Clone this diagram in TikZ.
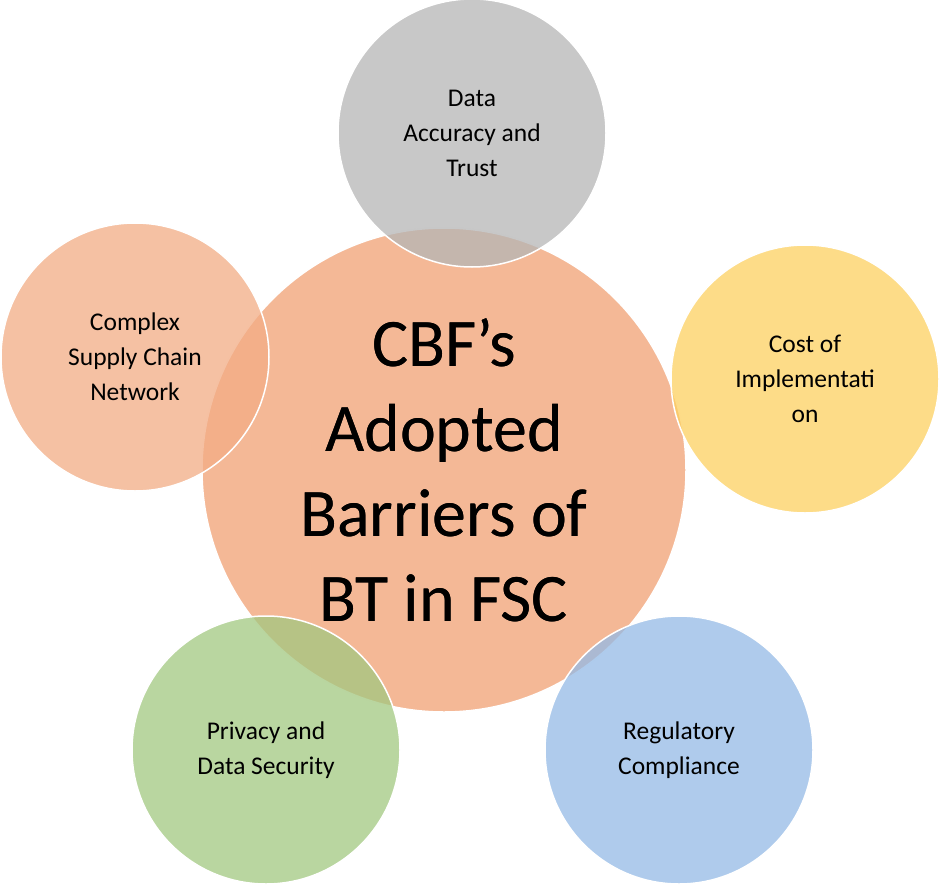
\documentclass[tikz,border=0pt]{standalone}
\usepackage{fontspec}
\setmainfont{Carlito}
\begin{document}
\begin{tikzpicture}[x=1pt,y=-1pt,
  circ/.style={circle,draw=white,line width=1.5pt,fill opacity=0.75,text opacity=1,align=center,inner sep=0pt},
  small/.style={circ,minimum size=268pt,font=\fontsize{25.5}{35}\selectfont}]
\useasboundingbox (0,0) rectangle (943,886);
\definecolor{cgray}{HTML}{B5B5B5}
\definecolor{corange}{HTML}{F2AC84}
\definecolor{cyellow}{HTML}{FDD060}
\definecolor{cblue}{HTML}{94BAE6}
\definecolor{cgreen}{HTML}{A2C880}
\node[circ,fill=corange,fill opacity=0.85,minimum size=484pt,font=\fontsize{68}{85}\selectfont] (c) at (444,470) {CBF’s\\Adopted\\Barriers of\\BT in FSC};
\node[small,fill=cgray] (top) at (472,133) {Data\\Accuracy and\\Trust};
\node[small,fill=cyellow] (right) at (805,379) {Cost of\\Implementati\\on};
\node[small,fill=corange] (left) at (135,357) {Complex\\Supply Chain\\Network};
\node[small,fill=cgreen] (bl) at (266,750) {Privacy and\\Data Security};
\node[small,fill=cblue] (br) at (679,750) {Regulatory\\Compliance};
\node[font=\fontsize{68}{85}\selectfont,align=center] at (c) {CBF’s\\Adopted\\Barriers of\\BT in FSC};
\end{tikzpicture}
\end{document}
